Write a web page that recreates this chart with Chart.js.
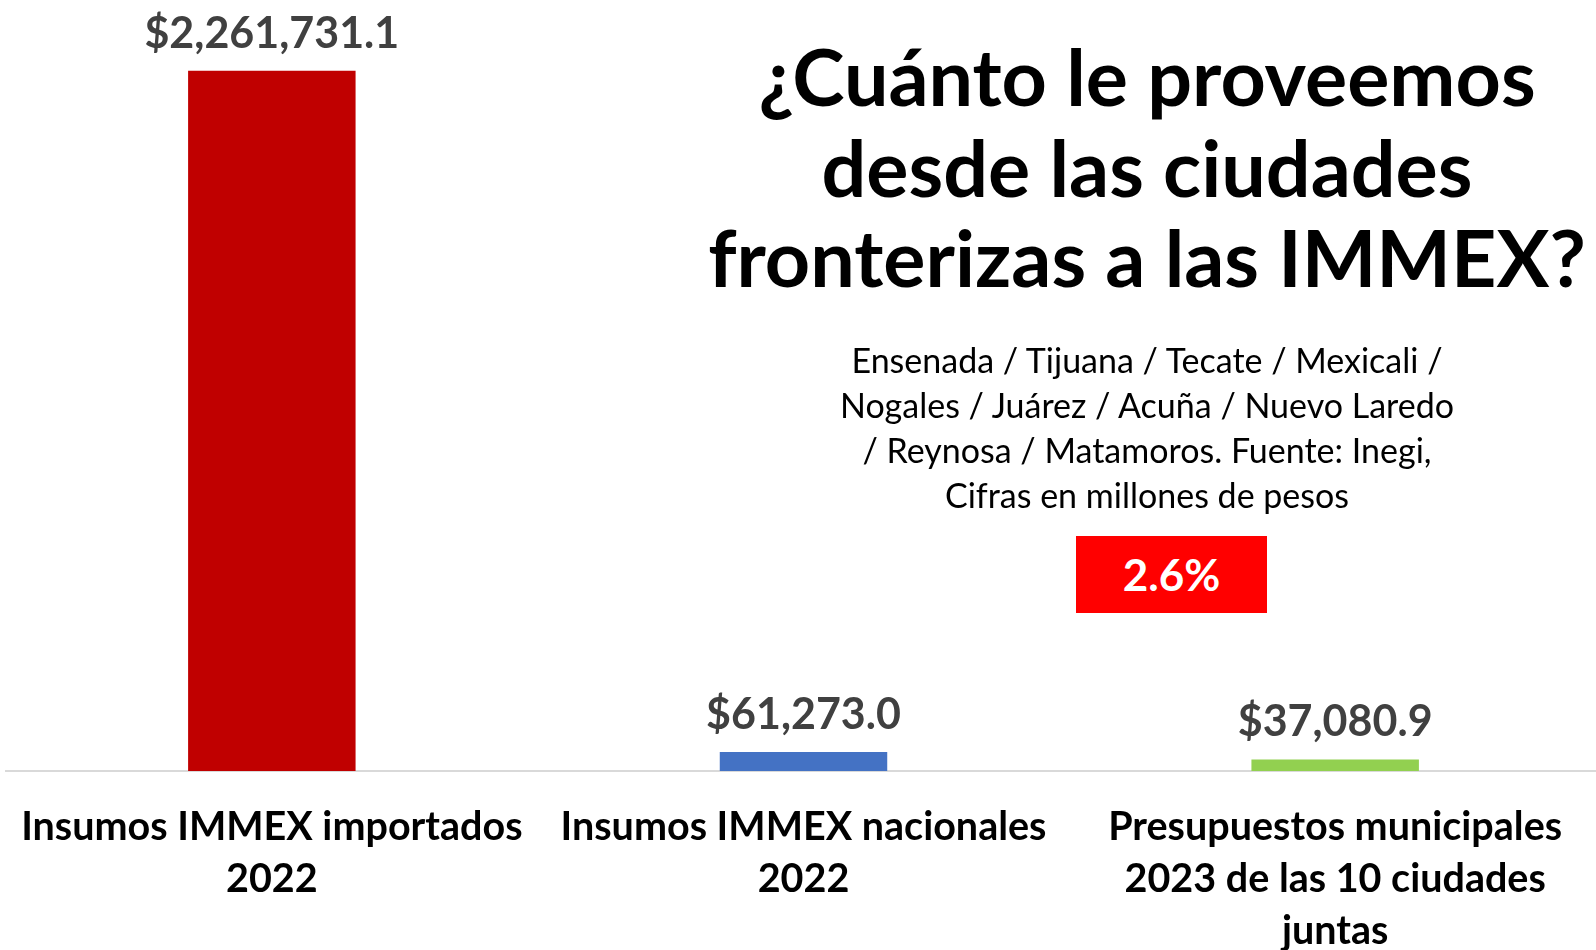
<!DOCTYPE html>
<html>
<head>
<meta charset="utf-8">
<script src="https://cdn.jsdelivr.net/npm/chart.js@4"></script>
<style>
  body { margin: 0; background: #fff; }
  #wrap { position: relative; width: 1596px; height: 950px; overflow: hidden; }
  #title {
    position: absolute; left: 667px; top: 31px; width: 960px;
    text-align: center; font-family: Lato, sans-serif; font-weight: 700;
    font-size: 79px; line-height: 90.5px; color: #000; white-space: nowrap;
  }
  #sub {
    position: absolute; left: 797px; top: 337px; width: 700px;
    text-align: center; font-family: Lato, sans-serif; font-weight: 400;
    font-size: 34px; line-height: 45px; color: #000; white-space: nowrap;
  }
  #pct {
    position: absolute; left: 1076px; top: 536px; width: 191px; height: 77px;
    background: #ff0000; color: #fff; font-family: Lato, sans-serif; font-weight: 700;
    font-size: 44px; line-height: 77px; text-align: center;
  }
</style>
</head>
<body>
<div id="wrap">
  <canvas id="c" width="1601" height="950"></canvas>
  <div id="title">¿Cuánto le proveemos<br>desde las ciudades<br>fronterizas a las IMMEX?</div>
  <div id="sub">Ensenada / Tijuana / Tecate / Mexicali /<br>Nogales / Juárez / Acuña / Nuevo Laredo<br>/ Reynosa / Matamoros. Fuente: Inegi,<br>Cifras en millones de pesos</div>
  <div id="pct">2.6%</div>
</div>
<script>
// --- DATA --- //
const categories = [
  ["Insumos IMMEX importados", "2022"],
  ["Insumos IMMEX nacionales", "2022"],
  ["Presupuestos municipales", "2023 de las 10 ciudades", "juntas"],
];
const values = [2261731.1, 61273.0, 37080.9];
const barColors = ["#c00000", "#4472c4", "#92d050"];

const fmt = (v) =>
  "$" + v.toLocaleString("en-US", { minimumFractionDigits: 1, maximumFractionDigits: 1 });

// value labels above each bar
const valueLabels = {
  id: "valueLabels",
  afterDatasetsDraw(chart) {
    const ctx = chart.ctx;
    const meta = chart.getDatasetMeta(0);
    ctx.save();
    ctx.font = "700 43px Lato, sans-serif";
    ctx.fillStyle = "#404040";
    ctx.textAlign = "center";
    ctx.textBaseline = "middle";
    meta.data.forEach((bar, i) => {
      ctx.fillText(fmt(values[i]), bar.x, bar.y - 37);
    });
    ctx.restore();
  },
};

new Chart(document.getElementById("c"), {
  type: "bar",
  data: {
    labels: categories,
    datasets: [
      {
        data: values,
        backgroundColor: barColors,
        categoryPercentage: 1,
        barPercentage: 0.315,
      },
    ],
  },
  options: {
    responsive: false,
    animation: false,
    layout: { padding: { left: 6, right: 0, top: 0, bottom: 0 } },
    plugins: { legend: { display: false }, tooltip: { enabled: false } },
    scales: {
      y: { display: false, min: 0, max: 2490000 },
      x: {
        grid: { display: false, drawTicks: false },
        border: { display: true, color: "#d9d9d9", width: 2 },
        ticks: {
          color: "#000",
          padding: 30,
          maxRotation: 0,
          autoSkip: false,
          font: { family: "Lato, sans-serif", weight: "700", size: 39.5, lineHeight: "52px" },
        },
        afterFit(axis) {
          // fixed axis height, and no extra side room for the wide labels
          axis.height = 179;
          axis.paddingLeft = 0;
          axis.paddingRight = 0;
        },
      },
    },
  },
  plugins: [valueLabels],
});
</script>
</body>
</html>
